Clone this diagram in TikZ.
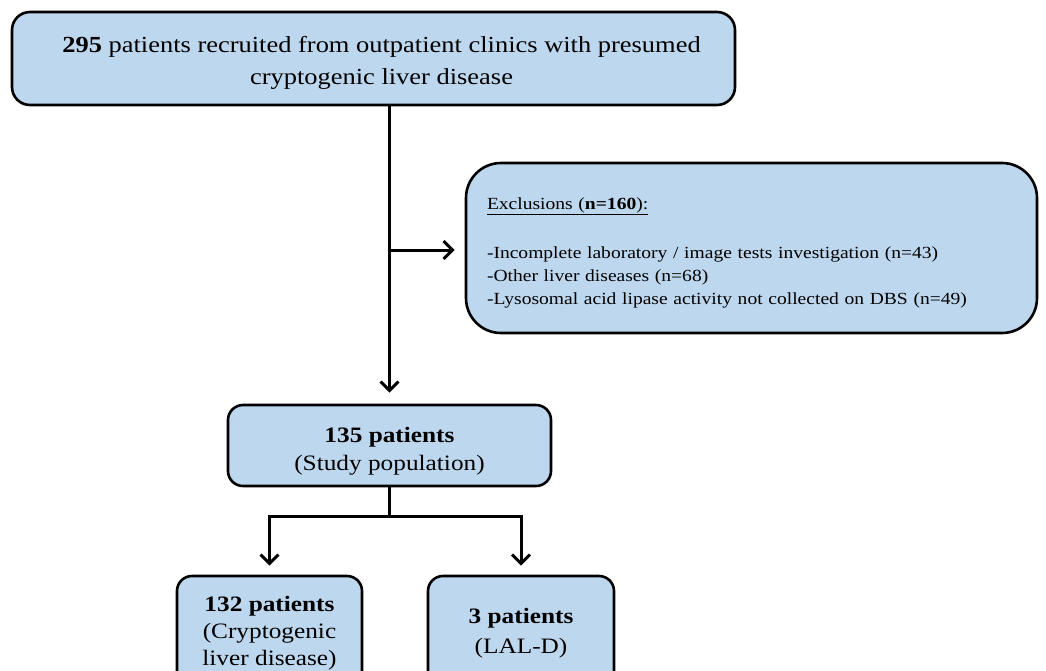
\documentclass[tikz,border=0pt]{standalone}
\usepackage{fontspec}
\setmainfont{Liberation Serif}[FakeStretch=1.15]
\usetikzlibrary{arrows.meta,calc}
\definecolor{boxfill}{HTML}{BDD7EE}
\tikzset{
  box/.style={draw=black, line width=2.6pt, fill=boxfill, align=center, inner sep=0pt},
  conn/.style={line width=3pt, draw=black},
  arr/.style={conn, -{Straight Barb[length=9pt,width=18pt]}},
}
\begin{document}
\begin{tikzpicture}[x=1pt,y=-1pt]
\useasboundingbox (0,0) rectangle (1046,670);
\clip (0,0) rectangle (1046,670);
\node[box, rounded corners=18pt, minimum width=723pt, minimum height=93pt,
  font=\fontsize{23}{32}\selectfont] (top) at (373.5,58.5)
  {\rule{0pt}{24pt}\hspace*{16pt}\textbf{295} patients recruited from outpatient clinics with presumed\\ \hspace*{16pt}cryptogenic liver disease};
\node[box, rounded corners=35pt, minimum width=571pt, minimum height=170pt,
  text width=529pt, align=left, font=\fontsize{17}{23}\selectfont] (excl) at (751.5,248)
  {\rule{0pt}{22pt}\underline{Exclusions (\textbf{n=160}):}\\[26pt]
   -Incomplete laboratory / image tests investigation (n=43)\\
   -Other liver diseases (n=68)\\
   -Lysosomal acid lipase activity not collected on DBS (n=49)};
\node[box, rounded corners=15pt, minimum width=323pt, minimum height=81pt,
  font=\fontsize{22}{28}\selectfont] (study) at (389.5,445.5)
  {\rule{0pt}{27pt}\textbf{135 patients}\\(Study population)};
\node[box, rounded corners=15pt, minimum width=185pt, minimum height=114pt,
  font=\fontsize{22}{27}\selectfont] (bl) at (269.5,633)
  {\textbf{132 patients}\\(Cryptogenic\\liver disease)};
\node[box, rounded corners=15pt, minimum width=186pt, minimum height=114pt,
  font=\fontsize{22}{30}\selectfont] (br) at (521,633)
  {\textbf{3 patients}\\(LAL-D)};
\coordinate (branch) at (390,250);
\draw[arr, shorten >=11pt] (top.south -| study.north) -- (study.north);
\draw[arr, shorten >=10pt] (branch) -- (branch -| excl.west);
\coordinate (j) at ($(study.south)+(0,29)$);
\draw[conn] (study.south) -- (j);
\draw[arr, shorten >=9pt] (j) -| (bl.north);
\draw[arr, shorten >=9pt] (j) -| (br.north);
\end{tikzpicture}
\end{document}
